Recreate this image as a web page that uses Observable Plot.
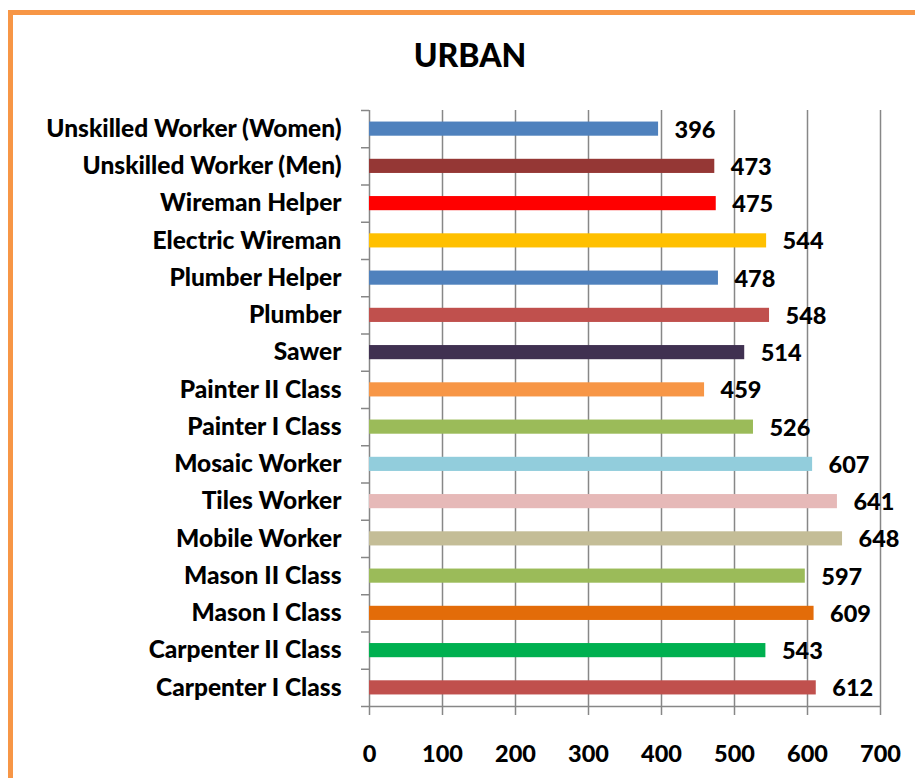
<!DOCTYPE html>
<html>
<head>
<meta charset="utf-8">
<script src="https://cdn.jsdelivr.net/npm/d3@7"></script>
<script src="https://cdn.jsdelivr.net/npm/@observablehq/plot@0.6"></script>
<style>
  html, body { margin: 0; padding: 0; background: #fff; overflow: hidden; }
  #wrap { position: relative; width: 915px; height: 778px; overflow: hidden; font-family: Lato, "Open Sans", sans-serif; }
  #frame { position: absolute; left: 8px; top: 10px; width: 1000px; height: 1000px; border: 5px solid #F79646; box-sizing: border-box; }
  #title { position: relative; height: 96px; margin: 0; text-align: center; font-weight: 900; font-size: 32px; line-height: 30px; padding-top: 40px; box-sizing: border-box; padding-left: 25px; color: #000; }
  #chart { position: relative; }
</style>
</head>
<body>
<div id="wrap">
  <div id="frame"></div>
  <div id="title">URBAN</div>
  <div id="chart"></div>
</div>
<script>
const categories = [
  "Unskilled Worker (Women)",
  "Unskilled Worker (Men)",
  "Wireman Helper",
  "Electric Wireman",
  "Plumber Helper",
  "Plumber",
  "Sawer",
  "Painter II Class",
  "Painter I Class",
  "Mosaic Worker",
  "Tiles Worker",
  "Mobile Worker",
  "Mason II Class",
  "Mason I Class",
  "Carpenter II Class",
  "Carpenter I Class"
];
const values = [396, 473, 475, 544, 478, 548, 514, 459, 526, 607, 641, 648, 597, 609, 543, 612];
const colors = [
  "#4F81BD", "#953735", "#FF0000", "#FFC000", "#4F81BD", "#C0504D", "#403151", "#F79646",
  "#9BBB59", "#92CDDC", "#E6B9B8", "#C4BD97", "#9BBB59", "#E36C09", "#00B050", "#C0504D"
];
const xTicks = [0, 100, 200, 300, 400, 500, 600, 700];

const data = categories.map((c, i) => ({category: c, value: values[i], color: colors[i], i}));
const boundaries = d3.range(categories.length + 1);
const barPad = 0.31;

const chart = Plot.plot({
  width: 915,
  height: 682,
  marginTop: 14,
  marginBottom: 72,
  marginLeft: 369,
  marginRight: 35,
  style: {fontFamily: "Lato, 'Open Sans', sans-serif", fontWeight: "900", fontSize: "23.5px", color: "#000", background: "transparent", overflow: "visible"},
  x: {domain: [0, 700], ticks: xTicks, tickSize: 9, tickPadding: 30, tickFormat: d => d, label: null, line: false},
  y: {domain: [0, categories.length], reverse: true, ticks: boundaries, tickSize: 8, tickFormat: () => "", label: null},
  marks: [
    Plot.ruleX(xTicks, {stroke: "#878787", strokeWidth: 1.5}),
    Plot.ruleY([categories.length], {stroke: "#878787", strokeWidth: 1.5}),
    Plot.rect(data, {x1: 0, x2: "value", y1: d => d.i + barPad, y2: d => d.i + 1 - barPad, fill: "color"}),
    Plot.text(data, {x: "value", y: d => d.i + 0.5, text: d => String(d.value), textAnchor: "start", dx: 16, dy: 1, fill: "#000", fontSize: 23.5, fontWeight: "900"}),
    Plot.text(data, {x: 0, y: d => d.i + 0.5, text: "category", textAnchor: "end", dx: -28, fill: "#000", fontSize: 24.5, fontWeight: "900"})
  ]
});
chart.querySelectorAll('[aria-label="x-axis"] line, [aria-label="y-axis"] line, g[aria-label="x-axis tick"] path, g[aria-label="y-axis tick"] path').forEach(el => {
  el.setAttribute("stroke", "#878787");
  el.setAttribute("stroke-width", "1.5");
});
chart.querySelectorAll('g[aria-label="x-axis"] g.tick line, g[aria-label="y-axis"] g.tick line').forEach(el => {
  el.setAttribute("stroke", "#878787");
});
document.getElementById("chart").appendChild(chart);
</script>
</body>
</html>
